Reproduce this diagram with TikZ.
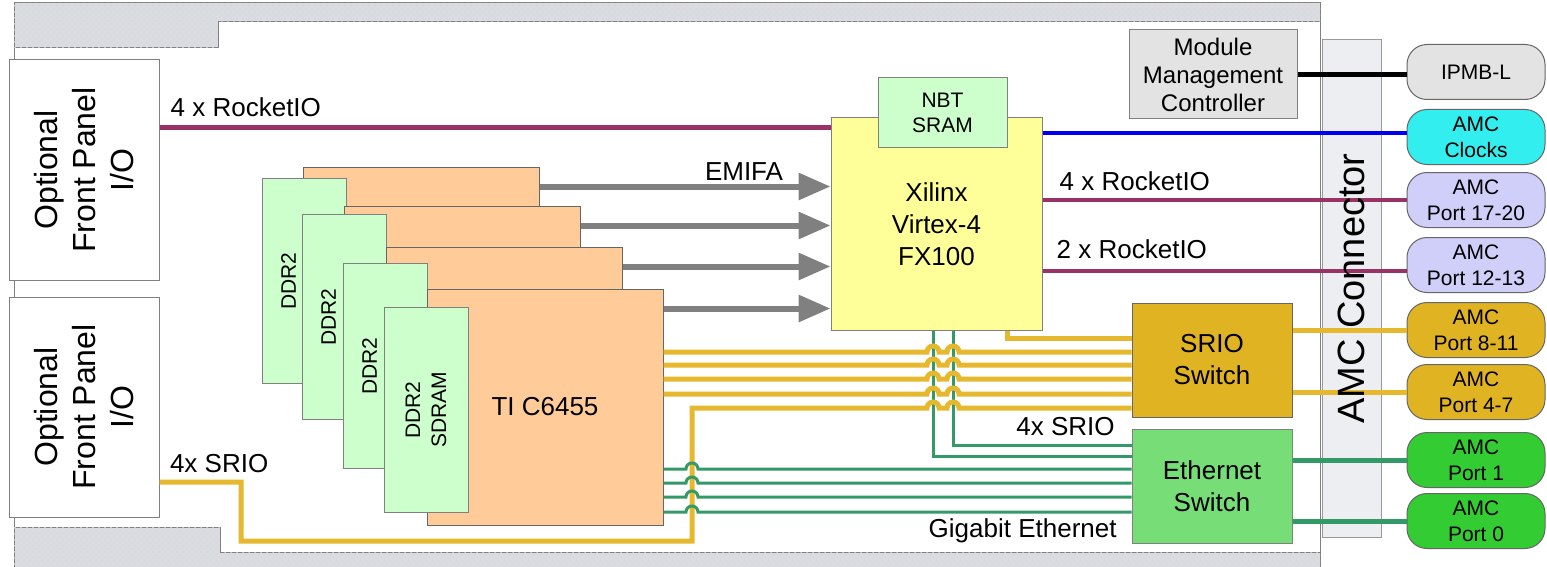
\documentclass[tikz,border=0pt]{standalone}
\usepackage{fontspec}
\setmainfont{Liberation Sans}
\usetikzlibrary{positioning, arrows.meta, calc, patterns}

\definecolor{rail}{HTML}{D9DCE1}
\definecolor{conn}{HTML}{EDEEF2}
\definecolor{fpgaY}{HTML}{FFFF99}
\definecolor{memG}{HTML}{CCFFCC}
\definecolor{dspO}{HTML}{FFCC99}
\definecolor{mmcG}{HTML}{E3E3E3}
\definecolor{srioY}{HTML}{E0B323}
\definecolor{ethG}{HTML}{77DD77}
\definecolor{portG}{HTML}{33CC33}
\definecolor{clkC}{HTML}{33EEEE}
\definecolor{portL}{HTML}{CFCFFA}
\definecolor{rioM}{HTML}{993366}
\definecolor{gbeT}{HTML}{339966}
\definecolor{srioL}{HTML}{E6B82E}
\definecolor{clkB}{HTML}{0000EE}
\definecolor{emifG}{HTML}{808080}

\newcommand{\lblfont}{\fontsize{13}{16}\selectfont}

\tikzset{
  box/.style ={draw=black!50, line width=0.5pt, rectangle, inner sep=0pt, align=center,
               font=\lblfont},
  port/.style={draw=black!60, line width=0.5pt, rounded corners=10pt, inner sep=0pt,
               minimum width=69pt, minimum height=27.5pt, align=center,
               font=\fontsize{10.5}{13}\selectfont},
  mem/.style ={box, fill=memG, minimum width=42pt, minimum height=102.5pt},
  dsp/.style ={box, fill=dspO, draw=black!60, minimum width=118pt, minimum height=118pt},
  lbl/.style ={inner sep=0pt, text=black, font=\lblfont},
  rio/.style ={rioM, line width=2.2pt},
  srio/.style={srioL, line width=2.5pt},
  gbe/.style ={gbeT, line width=1.5pt},
  emif/.style={emifG, line width=3pt, -{Triangle[length=16pt, width=13pt]}}
}

\begin{document}
\begin{tikzpicture}[x=0.5pt, y=-0.5pt]
  \useasboundingbox (0,0) rectangle (1547,567);
  \fill[white] (0,0) rectangle (1547,567);

  % board and rails
  \draw[black!50, line width=0.5pt] (14,3) rectangle (1320,567);
  \draw[black!50, line width=0.5pt, fill=rail,
        postaction={pattern=crosshatch dots, pattern color=black!15}]
    (14,3) -- (1320,3) -- (1320,22) -- (218,22) -- (218,48) -- (14,48) -- cycle;
  \draw[black!50, line width=0.5pt, fill=rail,
        postaction={pattern=crosshatch dots, pattern color=black!15}]
    (14,567) -- (14,527) -- (220,527) -- (220,552) -- (1320,552) -- (1320,567) -- cycle;

  % front panel
  \node[box, fill=white, minimum width=75pt, minimum height=110pt] (fpA) at (84,170) {};
  \node[box, fill=white, minimum width=75pt, minimum height=110pt] (fpB) at (84,407) {};
  \foreach \f in {fpA,fpB}
    \node[rotate=90, align=center, inner sep=0pt, font=\fontsize{16}{19}\selectfont]
      at (\f) {Optional\\Front Panel\\I/O};

  % AMC connector
  \node[box, fill=conn, draw=black!40, minimum width=29.5pt, minimum height=248.5pt]
    (amc) at (1351.5,288.5) {};

  % FPGA
  \node[box, fill=fpgaY, minimum width=105.5pt, minimum height=106pt] (fpga)
    at (936.5,224) {Xilinx\\Virtex-4\\FX100};
  \node[box, fill=memG, minimum width=64.5pt, minimum height=35pt,
        font=\fontsize{10.5}{12.5}\selectfont] (nbt) at (942.5,113) {NBT\\SRAM};

  % DSP stack
  \node[dsp] (dspA) at (421,285) {};
  \node[mem] (memA) at (304,281) {};
  \node[dsp] (dspB) at (462,324) {};
  \node[mem] (memB) at (344,317) {};
  \node[dsp] (dspC) at (504,365) {};
  \node[mem] (memC) at (385,366) {};
  \node[dsp] (dspD) at (545,407) {TI C6455};
  \node[mem] (memD) at (426,410) {};
  \foreach \m in {A,B,C}
    \node[lbl, rotate=90, font=\fontsize{10.5}{13}\selectfont]
      at ($(mem\m.west)+(27,0)$) {DDR2};
  \node[lbl, rotate=90, align=center, font=\fontsize{10.5}{13}\selectfont]
    at (memD) {DDR2\\SDRAM};

  % management, switches
  \node[box, fill=mmcG, minimum width=84pt, minimum height=44.5pt,
        font=\fontsize{12}{14}\selectfont] (mmc) at (1213,74.5)
    {Module\\Management\\Controller};
  \node[box, fill=srioY, draw=black!60, minimum width=80pt, minimum height=57pt]
    (sw) at (1212,360) {SRIO\\Switch};
  \node[box, fill=ethG, minimum width=80pt, minimum height=57pt]
    (esw) at (1212,486) {Ethernet\\Switch};

  % AMC ports
  \node[port, fill=mmcG]  (ipmb)  at (1476,72)  {IPMB-L};
  \node[port, fill=clkC]  (clk)   at (1476,137) {AMC\\Clocks};
  \node[port, fill=portL] (p1720) at (1476,200) {AMC\\Port 17-20};
  \node[port, fill=portL] (p1213) at (1476,265) {AMC\\Port 12-13};
  \node[port, fill=srioY] (p811)  at (1476,330) {AMC\\Port 8-11};
  \node[port, fill=srioY] (p47)   at (1476,392) {AMC\\Port 4-7};
  \node[port, fill=portG] (p1)    at (1476,460) {AMC\\Port 1};
  \node[port, fill=portG] (p0)    at (1476,521) {AMC\\Port 0};

  % IPMB and clocks
  \draw[black, line width=2.5pt] (mmc.east) -- (mmc.east -| ipmb.west);
  \coordinate (clkIn) at ([yshift=2pt]clk.west);
  \draw[clkB, line width=2pt] (clkIn -| fpga.east) -- (clkIn);

  % RocketIO
  \coordinate (rioL) at ([yshift=-5pt]fpga.north west);
  \draw[rio] (rioL -| fpA.east) -- (rioL)
    node[pos=0, lbl, anchor=base west, xshift=4.5pt, yshift=5.5pt] {4 x RocketIO};
  \draw[rio] (p1720.west -| fpga.east) -- (p1720.west)
    node[pos=0, lbl, anchor=base west, xshift=7.5pt, yshift=4.5pt] {4 x RocketIO};
  \coordinate (rioR) at ([yshift=-3pt]p1213.west);
  \draw[rio] (rioR -| fpga.east) -- (rioR)
    node[pos=0, lbl, anchor=base west, xshift=6pt, yshift=6.5pt] {2 x RocketIO};

  % EMIFA
  \foreach \d in {A,B,C,D} {
    \coordinate (e\d) at ([yshift=-10pt]dsp\d.north east);
    \draw[emif] (e\d) -- (e\d -| fpga.west);
  }
  \node[lbl, anchor=base] (emifa) at (744,180) {EMIFA};

  % gigabit ethernet from FPGA
  \draw[gbe] ([xshift=-1.75pt]fpga.south) |- (esw.west |- 0,456);
  \draw[gbe] ([xshift=8.25pt]fpga.south) |- (esw.west |- 0,445);

  % SRIO
  \draw[srio] (nbt.east |- fpga.south) |- (sw.west |- 0,338);
  \foreach \y in {352,365,379,394}
    \draw[srio] (dspD.east |- 0,\y) -- (927,\y)
      arc[start angle=180, end angle=0, radius=3pt] -- (947,\y)
      arc[start angle=180, end angle=0, radius=3pt] -- (sw.west |- 0,\y);
  \draw[srio] (fpB.east |- 0,482)
      node[lbl, anchor=base west, xshift=4pt, yshift=5pt] {4x SRIO}
    -| (241,541) -| (692,408) -- (927,408)
      arc[start angle=180, end angle=0, radius=3pt] -- (947,408)
      arc[start angle=180, end angle=0, radius=3pt] -- (sw.west |- 0,408);

  % gigabit ethernet from DSPs
  \foreach \y in {469,483,497,512}
    \draw[gbe] (dspD.east |- 0,\y) -- (686,\y)
      arc[start angle=180, end angle=0, radius=3pt] -- (esw.west |- 0,\y);

  \node[lbl, anchor=base east] (srioLbl) at (1115,435) {4x SRIO};
  \node[lbl, anchor=base east] (gbeLbl) at (1117,537) {Gigabit Ethernet};

  % switches to ports
  \draw[srio] (sw.east |- p811.west) -- (p811.west);
  \draw[srio] (sw.east |- p47.west) -- (p47.west);
  \draw[gbe, line width=2.5pt] (esw.east |- p1.west) -- (p1.west);
  \draw[gbe, line width=2.5pt] (esw.east |- p0.west) -- (p0.west);

  \node[lbl, rotate=90, font=\fontsize{19}{22}\selectfont] at (amc) {AMC Connector};
\end{tikzpicture}
\end{document}
